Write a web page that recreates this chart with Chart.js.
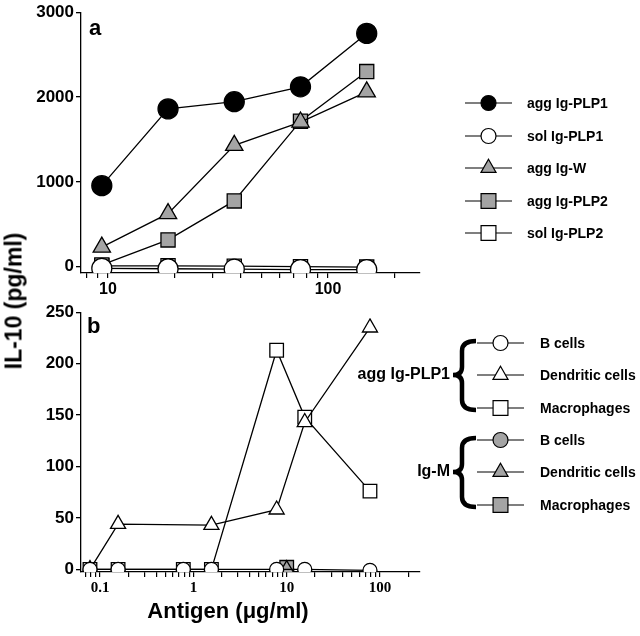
<!DOCTYPE html>
<html>
<head>
<meta charset="utf-8">
<script src="https://cdn.jsdelivr.net/npm/chart.js@4"></script>
<style>
  body { margin: 0; background: #fff; }
  #wrap { position: relative; width: 640px; height: 636px; overflow: hidden; }
  #wrap canvas { position: absolute; left: 0; }
  .title { position: absolute; font-family: Arial, "Liberation Sans", sans-serif; font-weight: bold; white-space: nowrap; color: #000; }
  #ytitle { left: 14px; top: 301px; font-size: 23px; transform: translate(-50%, -50%) rotate(-90deg); }
  #xtitle { left: 228px; top: 611px; font-size: 22px; transform: translate(-50%, -50%); }
</style>
</head>
<body>
<div id="wrap">
  <canvas id="chartA" width="640" height="300" style="top:0"></canvas>
  <canvas id="chartB" width="640" height="300" style="top:300px"></canvas>
  <div class="title" id="ytitle">IL-10 (pg/ml)</div>
  <div class="title" id="xtitle">Antigen (μg/ml)</div>
</div>
<script>
// ---- panel a data ----
const doseA = [9.375, 18.75, 37.5, 75, 150];
const aggPLP1 = [955, 1860, 1945, 2120, 2750];
const solPLP1 = [-20, -25, -30, -35, -35];
const aggW = [230, 625, 1430, 1705, 2060];
const aggPLP2 = [20, 315, 775, 1715, 2300];
const solPLP2 = [10, 10, 5, 0, -5];
const namesA = ['agg Ig-PLP1', 'sol Ig-PLP1', 'agg Ig-W', 'agg Ig-PLP2', 'sol Ig-PLP2'];
const yTicksA = [0, 1000, 2000, 3000];
const xTicksA = [8, 9, 10, 20, 30, 40, 50, 60, 70, 80, 90, 100, 200];
const xLabelsA = [10, 100];

// ---- panel b data ----
const doseB_Bcell = [0.078, 0.156, 0.78, 1.56, 7.8, 15.6, 78];
const aggBcell = [0, 0, 0, 0, 0, 0, -1];
const doseB_DC = [0.078, 0.156, 1.56, 7.8, 15.6, 78];
const aggDC = [0, 44, 43, 58, 143, 235];
const doseB_Mac = [0.078, 0.156, 0.78, 1.56, 7.8, 15.6, 78];
const aggMac = [0, 0, 0, 0, 213, 148, 76];
const doseB_IgM = [10];
const igmBcell = [0];
const igmDC = [0];
const igmMac = [2];
const namesB = ['B cells', 'Dendritic cells', 'Macrophages', 'B cells', 'Dendritic cells', 'Macrophages'];
const groupsB = ['agg Ig-PLP1', 'Ig-M'];
const yTicksB = [0, 50, 100, 150, 200, 250];
const xTicksB = [0.07, 0.08, 0.09, 0.1, 0.2, 0.3, 0.4, 0.5, 0.6, 0.7, 0.8, 0.9,
                 1, 2, 3, 4, 5, 6, 7, 8, 9, 10, 20, 30, 40, 50, 60, 70, 80, 90, 100, 200];
const xLabelsB = [0.1, 1, 10, 100];

const GRAY = '#a4a4a4';
const SANS = 'Arial, "Liberation Sans", sans-serif';
const SERIF = '"Times New Roman", "Liberation Serif", serif';

function pts(xs, ys) {
  return xs.map((x, i) => ({ x: x, y: ys[i] }));
}

function series(label, xs, ys, style, fill, radius, order) {
  return {
    label: label,
    data: pts(xs, ys),
    order: order,
    borderColor: '#000',
    borderWidth: 1.3,
    pointStyle: style,
    pointRadius: radius,
    pointBackgroundColor: fill,
    pointBorderColor: '#000',
    pointBorderWidth: 1.3,
    tension: 0,
    fill: false
  };
}

const legendRadius = { circle: 7.5, rect: 10.5, triangle: 8.7 };

function drawMarker(ctx, style, r, x, y) {
  if (Chart.helpers && Chart.helpers.drawPoint) {
    Chart.helpers.drawPoint(ctx, { pointStyle: style, radius: r, borderWidth: 1.2, rotation: 0 }, x, y);
    return;
  }
  ctx.beginPath();
  if (style === 'circle') ctx.arc(x, y, r, 0, Math.PI * 2);
  else if (style === 'rect') { const s = r * Math.SQRT1_2; ctx.rect(x - s, y - s, 2 * s, 2 * s); }
  else { ctx.moveTo(x, y - r); ctx.lineTo(x + r * 0.866, y + r / 2); ctx.lineTo(x - r * 0.866, y + r / 2); ctx.closePath(); }
  ctx.fill(); ctx.stroke();
}

function drawBrace(ctx, top, mid, bot, tipX, spineX, endX) {
  ctx.beginPath();
  ctx.moveTo(endX, top);
  ctx.quadraticCurveTo(spineX, top, spineX, top + 10);
  ctx.lineTo(spineX, mid - 8);
  ctx.quadraticCurveTo(spineX, mid, tipX, mid);
  ctx.quadraticCurveTo(spineX, mid, spineX, mid + 8);
  ctx.lineTo(spineX, bot - 10);
  ctx.quadraticCurveTo(spineX, bot, endX, bot);
  ctx.stroke();
}

const sideLegend = {
  id: 'sideLegend',
  afterDraw(chart, args, opts) {
    const ctx = chart.ctx;
    ctx.save();
    ctx.fillStyle = '#000';
    ctx.font = 'bold 22px ' + SANS;
    ctx.textAlign = 'left';
    ctx.textBaseline = 'alphabetic';
    ctx.fillText(opts.letter, opts.letterX, opts.letterY);

    chart.data.datasets.forEach((ds, i) => {
      const y = opts.rowY[i];
      ctx.strokeStyle = '#000';
      ctx.lineWidth = 1.2;
      ctx.beginPath();
      ctx.moveTo(opts.lineX0, y);
      ctx.lineTo(opts.lineX1, y);
      ctx.stroke();
      ctx.fillStyle = ds.pointBackgroundColor;
      drawMarker(ctx, ds.pointStyle, legendRadius[ds.pointStyle], (opts.lineX0 + opts.lineX1) / 2, y);
      ctx.fillStyle = '#000';
      ctx.font = 'bold 14px ' + SANS;
      ctx.textBaseline = 'middle';
      ctx.fillText(ds.label, opts.textX, y + 1);
    });

    (opts.groups || []).forEach(g => {
      ctx.strokeStyle = '#000';
      ctx.lineWidth = 4.5;
      drawBrace(ctx, g.top, g.mid, g.bot, 453, 462, 476);
      ctx.fillStyle = '#000';
      ctx.font = 'bold 16px ' + SANS;
      ctx.textAlign = 'right';
      ctx.textBaseline = 'middle';
      ctx.fillText(g.text, 450, g.mid);
      ctx.textAlign = 'left';
    });
    ctx.restore();
  }
};

function yAxis(min, max, ticks) {
  return {
    min: min, max: max,
    afterFit: s => { s.width = 81; },
    afterBuildTicks: s => { s.ticks = ticks.map(v => ({ value: v })); },
    border: { display: true, color: '#000', width: 1.3 },
    grid: { drawOnChartArea: false, drawTicks: true, tickLength: 5, color: '#000', lineWidth: 1.3 },
    ticks: {
      color: '#000', padding: 2,
      font: { family: SANS, size: 17, weight: 'bold' },
      callback: v => String(v)
    }
  };
}

function xAxis(min, max, ticks, labels, height, font) {
  return {
    type: 'logarithmic',
    min: min, max: max,
    afterFit: s => { s.height = height; },
    afterBuildTicks: s => { s.ticks = ticks.map(v => ({ value: v })); },
    border: { display: true, color: '#000', width: 1.3 },
    grid: { drawOnChartArea: false, drawTicks: true, tickLength: 5, color: '#000', lineWidth: 1.2 },
    ticks: {
      color: '#000', padding: 2, autoSkip: false, maxRotation: 0, minRotation: 0,
      font: font,
      callback: v => labels.includes(v) ? String(v) : ''
    }
  };
}

const baseOpts = {
  responsive: false,
  animation: false,
  devicePixelRatio: 1,
  plugins: { legend: { display: false }, tooltip: { enabled: false } }
};

new Chart(document.getElementById('chartA'), {
  type: 'line',
  data: {
    datasets: [
      series(namesA[0], doseA, aggPLP1, 'circle', '#000', 10, 0),
      series(namesA[1], doseA, solPLP1, 'circle', '#fff', 10, 1),
      series(namesA[2], doseA, aggW, 'triangle', GRAY, 10, 2),
      series(namesA[3], doseA, aggPLP2, 'rect', GRAY, 10, 3),
      series(namesA[4], doseA, solPLP2, 'rect', '#fff', 10, 4)
    ]
  },
  options: Object.assign({}, baseOpts, {
    layout: { padding: { top: 9, right: 220, left: 0, bottom: 0 } },
    scales: {
      x: xAxis(7.54, 262, xTicksA, xLabelsA, 27, { family: SANS, size: 16, weight: 'bold' }),
      y: yAxis(-75, 3000, yTicksA)
    },
    plugins: Object.assign({}, baseOpts.plugins, {
      sideLegend: {
        letter: 'a', letterX: 89, letterY: 35,
        rowY: [103, 136, 168, 201, 233],
        lineX0: 465, lineX1: 512, textX: 527
      }
    })
  }),
  plugins: [sideLegend]
});

new Chart(document.getElementById('chartB'), {
  type: 'line',
  data: {
    datasets: [
      series(namesB[0], doseB_Bcell, aggBcell, 'circle', '#fff', 7, 0),
      series(namesB[1], doseB_DC, aggDC, 'triangle', '#fff', 8.7, 1),
      series(namesB[2], doseB_Mac, aggMac, 'rect', '#fff', 9.6, 2),
      series(namesB[3], doseB_IgM, igmBcell, 'circle', GRAY, 7, 6),
      series(namesB[4], doseB_IgM, igmDC, 'triangle', GRAY, 8.7, 4),
      series(namesB[5], doseB_IgM, igmMac, 'rect', GRAY, 9.6, 5)
    ]
  },
  options: Object.assign({}, baseOpts, {
    layout: { padding: { top: 8, right: 220, left: 0, bottom: 0 } },
    scales: {
      x: xAxis(0.0625, 268, xTicksB, xLabelsB, 28, { family: SERIF, size: 15, weight: 'bold' }),
      y: yAxis(-2.6, 250, yTicksB)
    },
    plugins: Object.assign({}, baseOpts.plugins, {
      sideLegend: {
        letter: 'b', letterX: 87, letterY: 33,
        rowY: [43, 75, 108, 140, 172, 205],
        lineX0: 477, lineX1: 524, textX: 540,
        groups: [
          { text: groupsB[0], top: 41, mid: 75, bot: 110 },
          { text: groupsB[1], top: 138, mid: 172, bot: 207 }
        ]
      }
    })
  }),
  plugins: [sideLegend]
});
</script>
</body>
</html>
